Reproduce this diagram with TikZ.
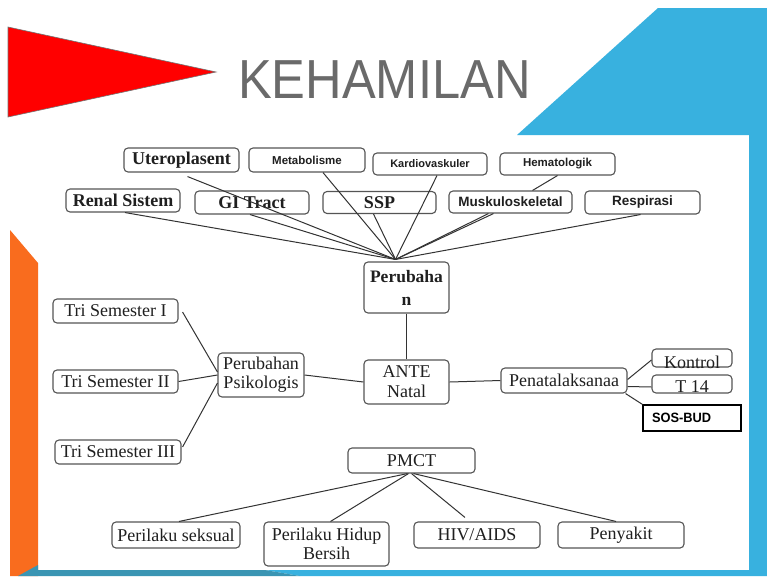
\documentclass[tikz,border=0pt]{standalone}
\usepackage{fontspec}
\setmainfont{Liberation Serif}
\newfontfamily\arialf{Liberation Sans}
\usetikzlibrary{calc}
\definecolor{skyb}{HTML}{38B1DF}
\definecolor{tealb}{HTML}{3A95B3}
\definecolor{orng}{HTML}{F96C1E}
\definecolor{boxgray}{HTML}{555555}
\definecolor{linegray}{HTML}{333333}
\definecolor{titlegray}{HTML}{6A6A6A}
\begin{document}
\begin{tikzpicture}[x=1pt,y=-1pt,
  box/.style={draw=boxgray, line width=1.1pt, rounded corners=4pt, fill=white, inner sep=0pt, align=center, text=black!88, font=\fontsize{18}{19}\selectfont},
  boldbox/.style={box, font=\fontsize{18}{19}\selectfont\bfseries},
  sansbox/.style={box, font=\arialf\fontsize{11.5}{13}\selectfont\bfseries},
  sansboxm/.style={box, font=\arialf\fontsize{13.5}{15}\selectfont\bfseries},
  conn/.style={draw=linegray, line width=1pt},
]
\useasboundingbox (0,0) rectangle (767,576);
\fill[white] (0,0) rectangle (767,576);
% background shapes
\fill[orng] (10,230) -- (38,263) -- (38,576) -- (10,576) -- cycle;
\fill[skyb] (658,8) -- (767,8) -- (767,576) -- (300,576) -- (265,570) -- (749,570) -- (749,135) -- (517,135) -- cycle;
\fill[tealb] (18,576) -- (38,565) -- (38,570) -- (265,570) -- (300,576) -- cycle;
\filldraw[fill=red, draw=black!55, line width=0.6pt] (8,27) -- (216,72) -- (8,117) -- cycle;
\node[anchor=base west, inner sep=0pt, text=titlegray] (title) at (238,98)
  {\scalebox{0.92}[1]{\arialf\fontsize{55}{55}\selectfont KEHAMILAN}};

% top nodes
\node[boldbox, minimum width=115pt, minimum height=24pt] (utero) at (181.5,160) {Uteroplasent};
\node[sansbox, minimum width=116pt, minimum height=24pt] (metab) at (307,160) {Metabolisme};
\node[sansbox, font=\arialf\fontsize{11}{13}\selectfont\bfseries, minimum width=114pt, minimum height=22pt] (kardio) at (430,164) {Kardiovaskuler};
\node[sansbox, minimum width=115pt, minimum height=22pt] (hemato) at (557.5,164) {Hematologik};
\node[boldbox, minimum width=114pt, minimum height=23pt] (renal) at (123,200.5) {Renal Sistem};
\node[boldbox, minimum width=114pt, minimum height=23pt] (gi) at (252,202.5) {GI Tract};
\node[boldbox, minimum width=113pt, minimum height=22pt] (ssp) at (379.5,202.5) {SSP};
\node[sansboxm, minimum width=123pt, minimum height=22pt] (musk) at (510.5,202) {Muskuloskeletal};
\node[sansboxm, minimum width=115pt, minimum height=23pt] (resp) at (642.5,202.5) {Respirasi};
\node[boldbox, font=\fontsize{17.5}{23}\selectfont\bfseries, minimum width=85pt, minimum height=51pt] (perub) at (406.5,287.5) {Perubaha\\n};

% middle nodes
\node[box, minimum width=125pt, minimum height=24pt] (ts1) at (115.5,311) {Tri Semester I};
\node[box, minimum width=125pt, minimum height=23pt] (ts2) at (115.5,381.5) {Tri Semester II};
\node[box, minimum width=126pt, minimum height=24pt] (ts3) at (118,452) {Tri Semester III};
\node[box, minimum width=86pt, minimum height=44pt] (psiko) at (261,375) {Perubahan\\Psikologis};
\node[box, font=\fontsize{18}{20}\selectfont, minimum width=85pt, minimum height=44pt] (ante) at (406.5,382) {ANTE\\Natal};
\node[box, minimum width=126pt, minimum height=25pt] (pena) at (564,380.5) {Penatalaksanaa};
\node[box, minimum width=80pt, minimum height=18pt] (kontrol) at (692,358) {\raisebox{-4pt}[\height][0pt]{Kontrol}};
\node[box, minimum width=80pt, minimum height=18pt] (t14) at (692,384) {\raisebox{-3pt}[\height][0pt]{T 14}};
\node[draw=black, line width=1.3pt, fill=white, inner sep=0pt, minimum width=98pt, minimum height=26pt,
  font=\arialf\fontsize{13.5}{15}\selectfont\bfseries] (sos) at (692,418)
  {\makebox[80pt][l]{\scalebox{0.95}[1]{SOS-BUD}}};
\node[box, minimum width=127pt, minimum height=25pt] (pmct) at (411.5,460.5) {PMCT};

% bottom nodes
\node[box, minimum width=128pt, minimum height=26pt] (seks) at (176,535) {Perilaku seksual};
\node[box, minimum width=125pt, minimum height=44pt] (hidup) at (326.5,544) {Perilaku Hidup\\Bersih};
\node[box, minimum width=126pt, minimum height=26pt] (hiv) at (477,535) {HIV/AIDS};
\node[box, minimum width=126pt, minimum height=26pt] (peny) at (621,535) {Penyakit};

% connectors
\coordinate (hub) at ($(perub.north)+(-11,-2)$);
\draw[conn] ($(utero.south)+(6,4)$) -- (hub);
\draw[conn] ($(metab.south)+(16,0)$) -- (hub);
\draw[conn] ($(kardio.south)+(7,0)$) -- (hub);
\draw[conn] (hemato.south) -- ($(musk.north)+(22,0)$);
\draw[conn] ($(renal.south)+(2,0)$) -- (hub);
\draw[conn] ($(gi.south)+(-2,0)$) -- (hub);
\draw[conn] ($(ssp.south)+(-6,0)$) -- (hub);
\draw[conn] ($(musk.south)+(-22,0)$) -- (hub);
\draw[conn] ($(musk.south)+(-17,0)$) -- (hub);
\draw[conn] ($(resp.south)+(-2,0)$) -- (hub);

\draw[conn] (perub.south) -- (ante.north);
\draw[conn] ($(ts1.east)+(4,1)$) -- ($(psiko.west)+(0,-3)$);
\draw[conn] (ts2.east) -- (psiko.west);
\draw[conn] ($(ts3.east)+(1,-5)$) -- ($(psiko.west)+(0,8)$);
\draw[conn] (psiko.east) -- (ante.west);
\draw[conn] (ante.east) -- (pena.west);
\draw[conn] ($(pena.east)+(0,-1)$) -- ($(kontrol.west)+(0,2)$);
\draw[conn] ($(pena.east)+(0,6)$) -- ($(t14.west)+(0,3)$);
\draw[conn] ($(pena.south east)+(-2,0)$) -- (sos.north west);
\draw[conn] ($(ante.south)+(1.5,0)$) -- ($(ante.south)+(1.5,0)$ |- pmct.north);

\draw[conn] ($(pmct.south)+(-4,0)$) -- ($(seks.north)+(3,0)$);
\draw[conn] ($(pmct.south)+(-3,0)$) -- ($(hidup.north)+(4,0)$);
\draw[conn] ($(pmct.south)+(0,0)$) -- ($(hiv.north)+(-12,-4)$);
\draw[conn] ($(pmct.south)+(2,0)$) -- ($(peny.north)+(-5,0)$);
\end{tikzpicture}
\end{document}
